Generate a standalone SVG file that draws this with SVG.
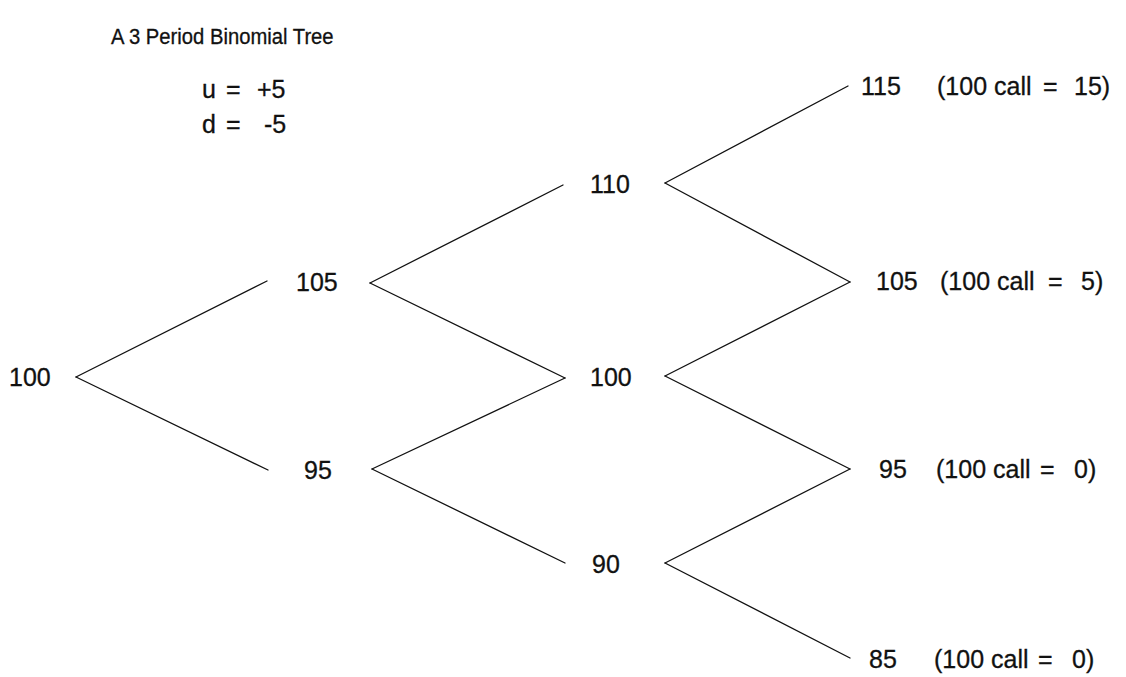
<svg xmlns="http://www.w3.org/2000/svg" width="1126" height="677" viewBox="0 0 1126 677">
<style>
text{font-family:"Liberation Sans",Arial,sans-serif;fill:#111;stroke:#111;stroke-width:0.3;}
.t{font-size:22px;}
.n{font-size:25px;}
.c{font-size:25px;}
.e line{stroke:#111;stroke-width:1.3;stroke-linecap:round;}
</style>
<rect width="1126" height="677" fill="#fff"/>
<g id="title"><text class="t" transform="translate(111,44) scale(0.92,1)">A 3 Period Binomial Tree</text></g>
<g id="params">
<text class="n" x="202" y="98">u<tspan x="226">=</tspan><tspan x="257">+5</tspan></text>
<text class="n" x="202" y="133">d<tspan x="226">=</tspan><tspan x="264">-5</tspan></text>
</g>
<g id="connectors" class="e">
<line x1="76" y1="377" x2="267" y2="281"/>
<line x1="76" y1="377" x2="268" y2="470"/>
<line x1="370" y1="283" x2="563" y2="185"/>
<line x1="370" y1="283" x2="565" y2="378"/>
<line x1="372" y1="469" x2="565" y2="378"/>
<line x1="372" y1="469" x2="565" y2="563"/>
<line x1="665" y1="183" x2="848" y2="86"/>
<line x1="665" y1="183" x2="850" y2="282"/>
<line x1="665" y1="376" x2="850" y2="282"/>
<line x1="665" y1="376" x2="850" y2="469"/>
<line x1="665" y1="563" x2="850" y2="469"/>
<line x1="665" y1="563" x2="850" y2="658"/>
</g>
<g id="n0"><text class="n" x="9" y="386">100</text></g>
<g id="n1u"><text class="n" x="296" y="291">105</text></g>
<g id="n1d"><text class="n" x="304" y="479">95</text></g>
<g id="n2uu"><text class="n" x="590" y="193">110</text></g>
<g id="n2ud"><text class="n" x="590" y="386">100</text></g>
<g id="n2dd"><text class="n" x="592" y="573">90</text></g>
<g id="n3a"><text class="n" x="861" y="95">115</text><text class="c" x="937" y="95">(100 call<tspan x="1043">=</tspan><tspan x="1074">15)</tspan></text></g>
<g id="n3b"><text class="n" x="876" y="290">105</text><text class="c" x="940" y="290">(100 call<tspan x="1048">=</tspan><tspan x="1081">5)</tspan></text></g>
<g id="n3c"><text class="n" x="879" y="478">95</text><text class="c" x="936" y="478">(100 call<tspan x="1040">=</tspan><tspan x="1074">0)</tspan></text></g>
<g id="n3d"><text class="n" x="869" y="668">85</text><text class="c" x="934" y="668">(100 call<tspan x="1038">=</tspan><tspan x="1072">0)</tspan></text></g>
</svg>
